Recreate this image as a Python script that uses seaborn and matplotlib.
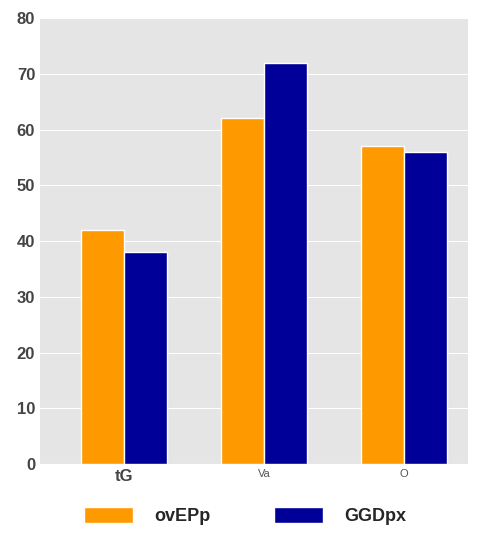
import matplotlib
matplotlib.use("Agg")
import matplotlib.pyplot as plt
import pandas as pd
import seaborn as sns

categories = ["tG", "Va", "O"]
series_names = ["ovEPp", "GGDpx"]
ovEPp = [42, 62, 57]
GGDpx = [38, 72, 56]
colors = ["#FF9900", "#000099"]

df = pd.DataFrame({
    "cat": categories * 2,
    "serie": [series_names[0]] * 3 + [series_names[1]] * 3,
    "val": ovEPp + GGDpx,
})

sns.set_style("darkgrid", {"axes.facecolor": "#E5E5E5", "grid.color": "white"})
plt.rcParams["font.family"] = ["Liberation Sans Narrow", "Liberation Sans", "DejaVu Sans"]

fig = plt.figure(figsize=(4.8, 5.6), dpi=100)
ax = fig.add_axes([40 / 480, 1 - 464 / 560, 428 / 480, 446 / 560])
sns.barplot(data=df, x="cat", y="val", hue="serie", palette=colors,
            width=0.615, saturation=1, ax=ax, legend=True)
ax.set_xlim(-0.6, 2.457)
ax.set_ylim(0, 80)
ax.set_yticks(range(0, 81, 10))
ax.set_xlabel("")
ax.set_ylabel("")
for s in ax.spines.values():
    s.set_visible(False)
ax.tick_params(length=0)
for t in ax.get_yticklabels():
    t.set_fontsize(12)
    t.set_fontweight("bold")
    t.set_color("#444444")
xt = ax.get_xticklabels()
xt[0].set_fontsize(12); xt[0].set_fontweight("bold"); xt[0].set_color("#444444")
for t in xt[1:]:
    t.set_fontsize(8); t.set_color("#555555")
ax.legend(loc="upper center", bbox_to_anchor=(0.48, -0.06), ncol=2, frameon=False,
          prop={"size": 13, "weight": "bold"}, handlelength=2.7, handleheight=1.0,
          columnspacing=3.5, handletextpad=1.2)
fig.savefig("out.png", dpi=100)
